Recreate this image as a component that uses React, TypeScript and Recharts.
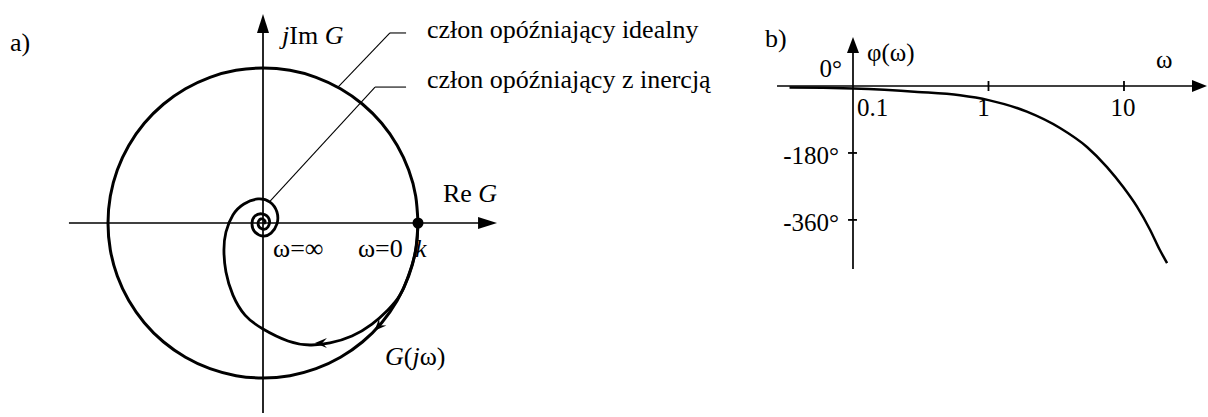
import { ComposedChart, Line, XAxis, YAxis, ReferenceLine, ReferenceDot } from "recharts"

const SERIF = '"Liberation Serif", "Times New Roman", serif'
const INK = "#000"

// a) ideal delay element: circle of radius k (k = 1)
const idealRe = [1.0, 0.985, 0.94, 0.866, 0.766, 0.643, 0.5, 0.342, 0.174, 0.0, -0.174, -0.342, -0.5, -0.643, -0.766, -0.866, -0.94, -0.985, -1.0, -0.985, -0.94, -0.866, -0.766, -0.643, -0.5, -0.342, -0.174, 0.0, 0.174, 0.342, 0.5, 0.643, 0.766, 0.866, 0.94, 0.985, 1.0]
const idealIm = [0.0, 0.174, 0.342, 0.5, 0.643, 0.766, 0.866, 0.94, 0.985, 1.0, 0.985, 0.94, 0.866, 0.766, 0.643, 0.5, 0.342, 0.174, 0.0, -0.174, -0.342, -0.5, -0.643, -0.766, -0.866, -0.94, -0.985, -1.0, -0.985, -0.94, -0.866, -0.766, -0.643, -0.5, -0.342, -0.174, 0.0]

// a) delay element with inertia: spiral from k (omega = 0) into the origin (omega = inf)
const inertRe = [1.0, 0.994, 0.974, 0.935, 0.884, 0.806, 0.703, 0.574, 0.432, 0.303, 0.161, 0.0, -0.116, -0.194, -0.239, -0.252, -0.239, -0.194, -0.123, -0.032, 0.045, 0.09, 0.09, 0.052, 0.0, -0.052, -0.071, -0.052, 0.0, 0.039, 0.032, -0.006, -0.032, -0.013, 0.013, 0.006]
const inertIm = [0.0, -0.11, -0.226, -0.348, -0.465, -0.561, -0.652, -0.729, -0.774, -0.787, -0.761, -0.684, -0.594, -0.465, -0.316, -0.174, -0.058, 0.052, 0.123, 0.155, 0.135, 0.071, -0.006, -0.065, -0.084, -0.058, -0.006, 0.045, 0.058, 0.026, -0.026, -0.039, -0.006, 0.026, 0.013, -0.006]

// b) phase characteristic
const omega = [0.034, 0.06, 0.1, 0.3, 0.616, 1, 1.92, 3.37, 5.33, 7.49, 9.84, 12.5, 15.6, 18.4, 20.8]
const phaseDeg = [-4, -5, -7, -16, -25, -38, -69, -113, -164, -218, -271, -325, -387, -441, -476]
const omegaTicks = [0.1, 1, 10]
const omegaTickLabels = ["0.1", "1", "10"]
const phaseTicks = [-180, -360]

const idealData = idealRe.map((re, i) => ({ re, im: idealIm[i] }))
const inertData = inertRe.map((re, i) => ({ re, im: inertIm[i] }))
const phaseData = omega.map((w, i) => ({ w, phi: phaseDeg[i] }))

// line ending in a filled arrow head
function arrowShape(head: number, width: number, sw: number) {
  return (p: any) => {
    const { x1, y1, x2, y2 } = p
    const len = Math.hypot(x2 - x1, y2 - y1) || 1
    const ux = (x2 - x1) / len
    const uy = (y2 - y1) / len
    const bx = x2 - ux * head
    const by = y2 - uy * head
    const nx = (-uy * width) / 2
    const ny = (ux * width) / 2
    return (
      <g>
        <line x1={x1} y1={y1} x2={bx + ux} y2={by + uy} stroke={INK} strokeWidth={sw} />
        <polygon points={`${x2},${y2} ${bx + nx},${by + ny} ${bx - nx},${by - ny}`} fill={INK} />
      </g>
    )
  }
}

// barbed arrow head sitting on a curve, angle in screen degrees
function barb(angle: number, size = 12) {
  return (p: any) => (
    <path
      transform={`translate(${p.cx},${p.cy}) rotate(${angle})`}
      d={`M0,0 L${-size},${-size * 0.42} L${-size * 0.62},0 L${-size},${size * 0.42} Z`}
      fill={INK}
    />
  )
}

type NoteOpts = { dx?: number; dy?: number; anchor?: "start" | "middle" | "end"; size?: number }

function note(key: string, x: number, y: number, content: any, opts: NoteOpts = {}) {
  const { dx = 0, dy = 0, anchor = "start", size = 26 } = opts
  return (
    <ReferenceDot
      key={key}
      x={x}
      y={y}
      r={0}
      ifOverflow="visible"
      shape={(p: any) => (
        <text x={p.cx + dx} y={p.cy + dy} textAnchor={anchor} fontFamily={SERIF} fontSize={size} fill={INK}>
          {content}
        </text>
      )}
    />
  )
}

function seg(key: string, a: [number, number], b: [number, number], sw = 1.1) {
  return (
    <ReferenceLine
      key={key}
      segment={[{ x: a[0], y: a[1] }, { x: b[0], y: b[1] }]}
      stroke={INK}
      strokeWidth={sw}
    />
  )
}

const it = (s: string) => <tspan fontStyle="italic">{s}</tspan>

function NyquistPlot() {
  return (
    <ComposedChart width={760} height={417} margin={{ top: 0, right: 0, bottom: 0, left: 0 }}>
      <XAxis type="number" dataKey="re" domain={[-1.6968, 3.2065]} allowDataOverflow hide />
      <YAxis type="number" dataKey="im" domain={[-1.2516, 1.4387]} allowDataOverflow hide />

      <ReferenceLine segment={[{ x: -1.252, y: 0 }, { x: 1.51, y: 0 }]} shape={arrowShape(19, 12, 1.7)} />
      <ReferenceLine segment={[{ x: 0, y: -1.226 }, { x: 0, y: 1.348 }]} shape={arrowShape(19, 12, 1.7)} />

      {seg("l1a", [0.484, 0.877], [0.819, 1.226])}
      {seg("l1b", [0.819, 1.226], [0.923, 1.226])}
      {seg("l2a", [0.04, 0.135], [0.723, 0.877])}
      {seg("l2b", [0.723, 0.877], [0.923, 0.877])}

      <Line data={idealData} dataKey="im" type="natural" stroke={INK} strokeWidth={3} dot={false} activeDot={false} isAnimationActive={false} />
      <Line data={inertData} dataKey="im" type="natural" stroke={INK} strokeWidth={2.8} dot={false} activeDot={false} isAnimationActive={false} />

      <ReferenceDot x={1} y={0} r={5.5} fill={INK} stroke="none" />
      <ReferenceDot x={0.335} y={-0.774} r={0} shape={barb(180)} />
      <ReferenceDot x={0.719} y={-0.695} r={0} shape={barb(134)} />

      {note("a", -1.632, 1.11, "a)")}
      {note("im", 0.123, 1.155, <>{it("j")}Im {it("G")}</>)}
      {note("t1", 1.058, 1.194, "człon opóźniający idealny")}
      {note("t2", 1.058, 0.871, "człon opóźniający z inercją")}
      {note("re", 1.161, 0.135, <>Re {it("G")}</>)}
      {note("winf", 0.065, -0.219, "ω=∞")}
      {note("w0", 0.613, -0.219, "ω=0")}
      {note("k", 0.981, -0.219, it("k"))}
      {note("g", 0.787, -0.916, <>{it("G")}({it("j")}ω)</>)}
    </ComposedChart>
  )
}

function PhasePlot() {
  return (
    <ComposedChart width={448} height={300} data={phaseData} margin={{ top: 0, right: 0, bottom: 0, left: 0 }}>
      <XAxis type="number" dataKey="w" scale="log" domain={[0.02059, 41.69]} allowDataOverflow hide />
      <YAxis type="number" dataKey="phi" domain={[-575.3, 231.2]} allowDataOverflow hide />

      <ReferenceLine segment={[{ x: 0.0275, y: 0 }, { x: 41, y: 0 }]} shape={arrowShape(15, 12, 1.7)} />
      <ReferenceLine segment={[{ x: 0.1, y: -492 }, { x: 0.1, y: 131.7 }]} shape={arrowShape(16, 12, 1.7)} />

      {omegaTicks
        .filter((w) => w > 0.1)
        .map((w) => seg(`wt${w}`, [w, 13.5], [w, -13.5], 1.8))}
      {phaseTicks.map((v) => seg(`pt${v}`, [0.0919, v], [0.107, v], 1.8))}

      <Line dataKey="phi" type="monotone" stroke={INK} strokeWidth={2.5} dot={false} activeDot={false} isAnimationActive={false} />

      {omegaTicks.map((w, i) =>
        note(`wl${w}`, w, 0, omegaTickLabels[i], {
          dx: i === 0 ? 4 : i === 1 ? -5 : -1,
          dy: 30,
          anchor: i === 0 ? "start" : "middle",
          size: 25,
        })
      )}
      {phaseTicks.map((v) => note(`pl${v}`, 0.1, v, `${v}°`, { dx: -14, dy: 11, anchor: "end", size: 25 }))}
      {note("zero", 0.1, 0, "0°", { dx: -11, dy: -9, anchor: "end", size: 25 })}
      {note("phi", 0.1, 0, "φ(ω)", { dx: 14, dy: -25, size: 25 })}
      {note("w", 10, 0, "ω", { dx: 32, dy: -18, size: 25 })}
      {note("b", 0.1, 0, "b)", { dx: -88, dy: -39, size: 26 })}
    </ComposedChart>
  )
}

export default function App() {
  return (
    <div style={{ position: "absolute", left: 0, top: 0, width: 1208, height: 417, background: "#fff" }}>
      <div style={{ position: "absolute", left: 0, top: 0 }}>
        <NyquistPlot />
      </div>
      <div style={{ position: "absolute", left: 760, top: 0 }}>
        <PhasePlot />
      </div>
    </div>
  )
}
